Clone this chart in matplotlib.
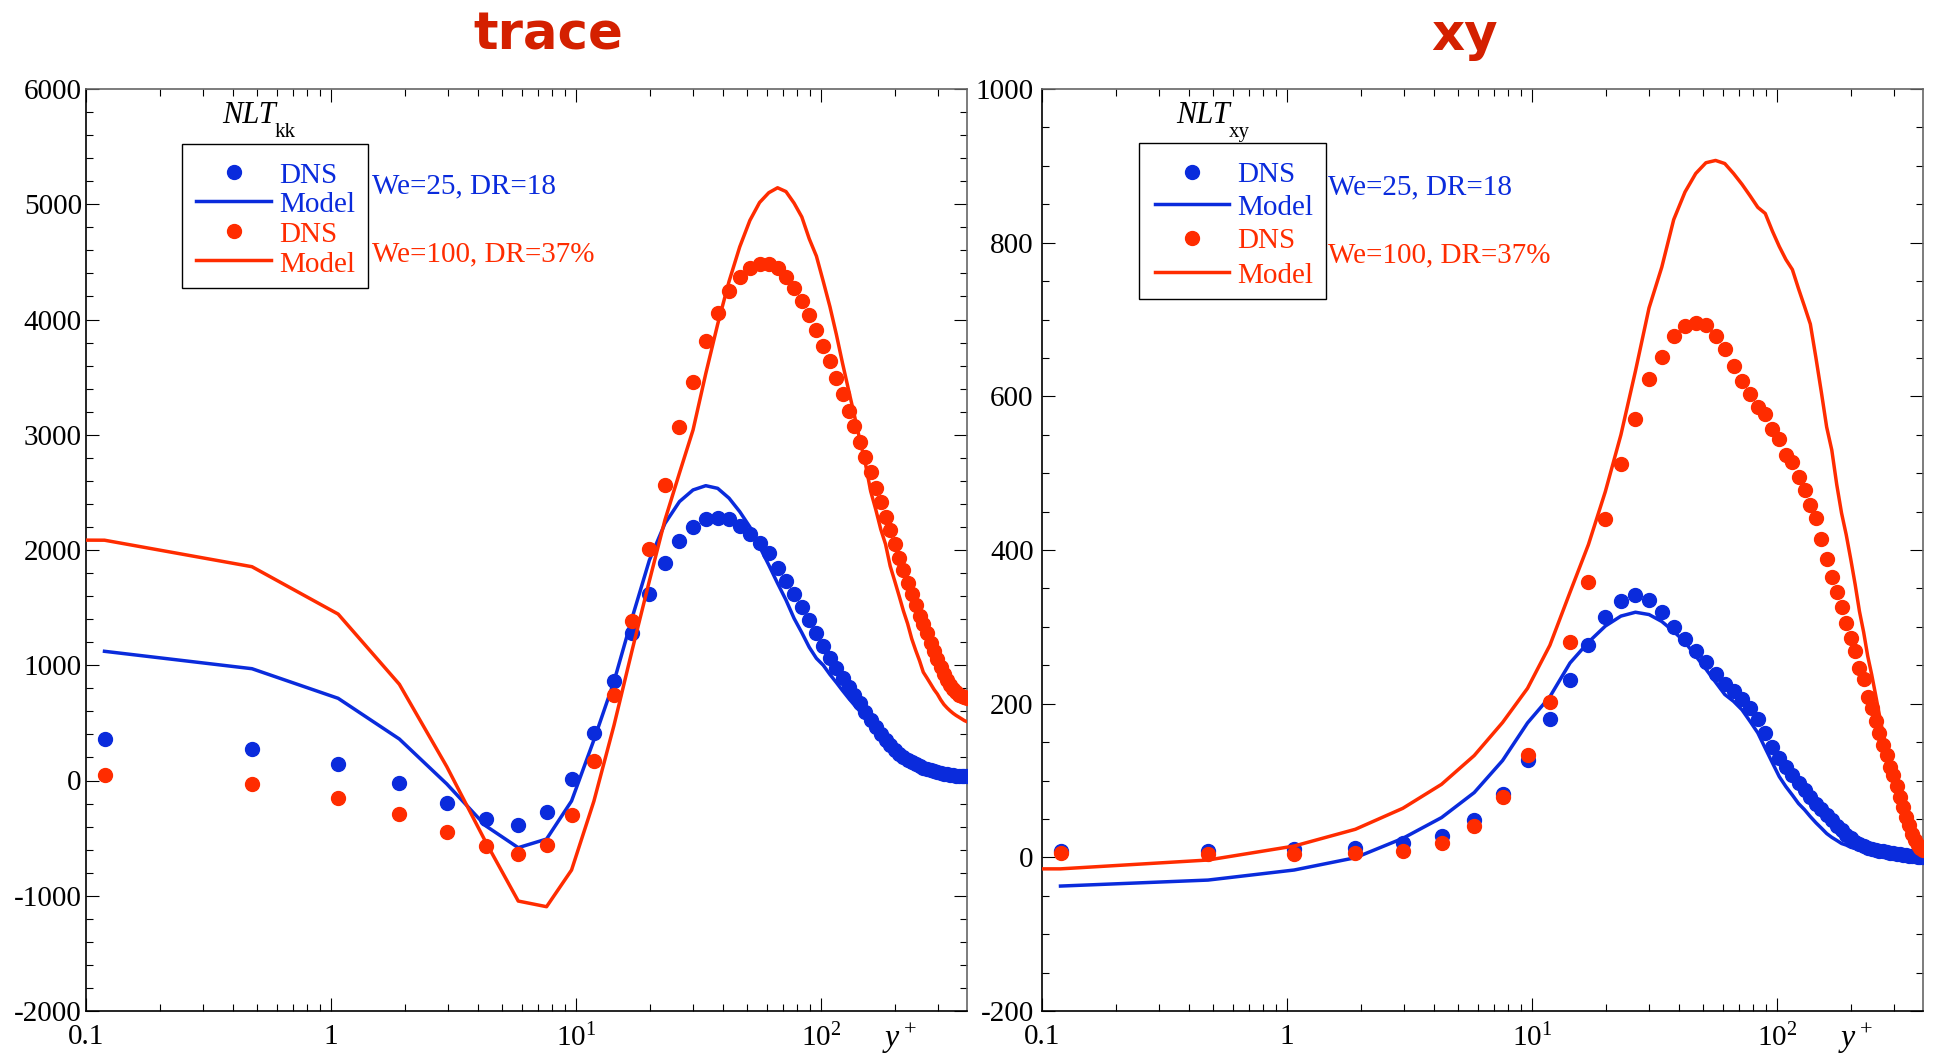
import numpy as np
import matplotlib.pyplot as plt
from matplotlib.lines import Line2D
from matplotlib.patches import Rectangle
from matplotlib.ticker import FixedLocator, MultipleLocator, NullFormatter

plt.rcParams['font.family'] = ['Liberation Serif', 'DejaVu Serif']
plt.rcParams['mathtext.fontset'] = 'custom'
plt.rcParams['mathtext.rm'] = 'Liberation Serif'
plt.rcParams['mathtext.it'] = 'Liberation Serif:italic'
plt.rcParams['axes.unicode_minus'] = False

# DNS wall-normal grid, first point off the wall up to the channel centre
yplus = [0.119, 0.476, 1.070, 1.902, 2.971, 4.275, 5.815, 7.590,
         9.598, 11.84, 14.31, 17.01, 19.94, 23.09, 26.47, 30.07,
         33.89, 37.92, 42.18, 46.64, 51.32, 56.20, 61.28, 66.57,
         72.05, 77.73, 83.60, 89.66, 95.90, 102.3, 108.9, 115.7,
         122.6, 129.7, 137.0, 144.4, 152.0, 159.7, 167.6, 175.6,
         183.7, 191.9, 200.3, 208.8, 217.4, 226.1, 234.9, 243.8,
         252.8, 261.9, 271.1, 280.3, 289.7, 299.0, 308.5, 317.9,
         327.5, 337.0, 346.7, 356.3, 365.9, 375.6, 385.3, 395.0]
# the We=100 model also has a value below the first grid point
yplus_wall = 0.03

# ---- trace (NLT_kk) ----
kk_dns_we25 = [357, 273, 143, -22, -192, -337, -386, -273,
               10, 416, 866, 1277, 1618, 1885, 2080, 2202,
               2266, 2281, 2268, 2212, 2140, 2057, 1970, 1846,
               1730, 1614, 1507, 1393, 1282, 1166, 1066, 973,
               886, 814, 742, 670, 597, 525, 461, 401,
               350, 305, 265, 232, 203, 178, 157, 139,
               123, 109, 97, 87, 79, 71, 65, 59,
               54, 50, 46, 43, 41, 39, 37, 36]
kk_model_we25 = [1121, 970, 713, 360, -30, -392, -583, -508,
                 -178, 351, 860, 1420, 1910, 2230, 2420, 2521,
                 2558, 2535, 2450, 2333, 2200, 2029, 1870, 1711,
                 1566, 1407, 1283, 1156, 1060, 1000, 920, 850,
                 780, 715, 655, 600, 545, 490, 440, 390,
                 345, 300, 262, 228, 198, 172, 150, 131,
                 115, 100, 88, 78, 70, 63, 57, 52,
                 47, 43, 40, 37, 35, 33, 32, 31]
kk_dns_we100 = [48, -33, -152, -291, -447, -571, -641, -560,
                -299, 169, 742, 1387, 2005, 2560, 3070, 3461,
                3814, 4054, 4243, 4373, 4444, 4479, 4479, 4444,
                4373, 4277, 4164, 4036, 3906, 3770, 3640, 3490,
                3351, 3209, 3076, 2937, 2807, 2677, 2542, 2414,
                2289, 2170, 2053, 1933, 1826, 1716, 1618, 1523,
                1427, 1358, 1277, 1196, 1121, 1051, 982, 924,
                872, 828, 794, 765, 745, 730, 722, 719]
kk_model_we100 = [2090,
                  2085, 1855, 1444, 835, 120, -530, -1046, -1095,
                  -777, -180, 480, 1141, 1730, 2260, 2668, 3041,
                  3530, 3960, 4330, 4630, 4860, 5015, 5100, 5143,
                  5110, 5010, 4890, 4700, 4550, 4330, 4111, 3870,
                  3620, 3390, 3170, 2950, 2750, 2510, 2350, 2180,
                  2050, 1860, 1730, 1600, 1470, 1360, 1230, 1130,
                  1040, 940, 890, 840, 790, 750, 700, 660,
                  630, 605, 583, 565, 550, 535, 520, 510]

# ---- xy (NLT_xy) ----
xy_dns_we25 = [8.7, 8.7, 10.8, 12.6, 18.2, 28.2, 48.6, 82,
               127, 180, 231, 277, 313, 334, 342, 335,
               319, 300, 284, 269, 254, 239, 226, 216,
               206, 194, 180, 162, 144, 129, 118, 107,
               97, 88, 79, 70, 63, 55, 48, 41,
               35, 29, 25, 20, 17, 15, 12.6, 11,
               10, 8.7, 7.8, 6.9, 6.0, 5.2, 4.3, 3.9,
               3.0, 2.6, 2.1, 1.7, 1.3, 0.8, 0.4, 0.0]
xy_model_we25 = [-37.4, -29.6, -16.5, -0.5, 24.7, 51.7, 84.3, 126,
                 175, 209, 253, 280, 301, 314, 319, 316,
                 307, 294, 280, 262, 245, 228, 212, 203,
                 192, 177, 162, 142, 123, 105, 92, 81,
                 70, 62, 53, 45, 38, 31, 26, 22,
                 18, 16, 13, 12, 10, 8.7, 7.3, 6.5,
                 5.6, 4.7, 4.0, 3.5, 3.0, 2.6, 2.2, 1.9,
                 1.6, 1.3, 1.0, 0.8, 0.6, 0.4, 0.2, 0.0]
xy_dns_we100 = [5.2, 4.3, 4.3, 5.2, 8.7, 18.2, 41.3, 78,
                133, 202, 280, 359, 440, 512, 570, 622,
                651, 678, 692, 696, 693, 679, 662, 639,
                620, 603, 586, 577, 558, 544, 524, 515,
                495, 478, 458, 441, 414, 388, 365, 345,
                326, 305, 285, 269, 246, 232, 209, 194,
                177, 162, 146, 133, 118, 107, 93, 79,
                66, 53, 42, 31, 22.5, 16, 11.7, 9.5]
xy_model_we100 = [-15,
                  -15, -3.5, 14.7, 36.5, 63.8, 95, 132.5, 175.5,
                  220, 276, 345, 407, 476, 550, 633, 715,
                  768, 830, 866, 890, 904, 907, 903, 890,
                  876, 861, 846, 838, 815, 795, 778, 765,
                  740, 717, 694, 650, 605, 560, 530, 485,
                  448, 420, 388, 355, 320, 293, 262, 238,
                  212, 186, 162, 144, 122, 101, 85, 66,
                  56, 46, 38, 30, 23, 16, 10, 8]

x_ticks = [0.1, 1, 10, 100]
x_ticklabels = ['0.1', '1', '$10^1$', '$10^2$']

blue = '#0a2bdc'
red = '#ff2c00'
title_red = '#d42000'

W, H = 1934, 1058
fig = plt.figure(figsize=(W / 100, H / 100), dpi=100)


def fx(px):
    return px / W


def fy(py):
    return 1 - py / H


def setup(ax, ylim, major, minor, ypad):
    ax.set_xscale('log')
    ax.set_xlim(0.1, 395)
    ax.set_ylim(*ylim)
    ax.xaxis.set_major_locator(FixedLocator(x_ticks))
    ax.set_xticklabels(x_ticklabels)
    minors = [m * 10.0 ** e for e in (-1, 0, 1, 2) for m in range(2, 10)]
    ax.xaxis.set_minor_locator(FixedLocator([v for v in minors if v < 395]))
    ax.xaxis.set_minor_formatter(NullFormatter())
    ax.yaxis.set_major_locator(MultipleLocator(major))
    ax.yaxis.set_minor_locator(MultipleLocator(minor))
    ax.tick_params(which='both', direction='in', top=True, right=True,
                   labelsize=21, width=0.8, color='black')
    ax.tick_params(which='major', length=9.5)
    ax.tick_params(which='minor', length=5)
    ax.tick_params(axis='x', which='major', pad=9)
    ax.tick_params(axis='y', which='major', pad=ypad)
    for side in ('left', 'bottom'):
        ax.spines[side].set_linewidth(1.2)
        ax.spines[side].set_color('black')
    for side in ('top', 'right'):
        ax.spines[side].set_linewidth(1.2)
        ax.spines[side].set_color('#666666')
    ax.text(0.904, -0.039, '$y^+$', transform=ax.transAxes, fontsize=23,
            va='baseline', ha='left')


def curves(ax, dns25, mod25, dns100, mod100):
    ax.plot(yplus, dns25, 'o', ms=10, color=blue, zorder=3)
    ax.plot(yplus, mod25, '-', lw=2.5, color=blue, zorder=4)
    ax.plot(yplus, dns100, 'o', ms=10, color=red, zorder=5)
    ax.plot([yplus_wall] + yplus, mod100, '-', lw=2.5, color=red, zorder=6)


def key(box, mark_x, line_x, text_x, rows, sub, name_x, texts_x, texts_y):
    left, top, right, bottom = box
    fig.add_artist(Rectangle((fx(left), fy(bottom)), (right - left) / W,
                             (bottom - top) / H, transform=fig.transFigure,
                             fill=False, lw=1.0, ec='black'))
    entries = [('dot', blue, 'DNS'), ('line', blue, 'Model'),
               ('dot', red, 'DNS'), ('line', red, 'Model')]
    for (kind, c, lab), (ym, yt) in zip(entries, rows):
        if kind == 'dot':
            fig.add_artist(Line2D([fx(mark_x)], [fy(ym)], marker='o', ms=10,
                                  color=c, ls='none', transform=fig.transFigure))
        else:
            fig.add_artist(Line2D([fx(line_x[0]), fx(line_x[1])], [fy(ym), fy(ym)],
                                  color=c, lw=2.5, transform=fig.transFigure))
        fig.text(fx(text_x), fy(yt), lab, color=c, fontsize=21, va='baseline')
    # variable name with a dropped subscript
    fig.text(fx(name_x), fy(123), 'NLT', fontsize=22, style='italic',
             va='baseline')
    fig.text(fx(name_x + 53), fy(137), sub, fontsize=15, va='baseline')
    fig.text(fx(texts_x), fy(texts_y[0]), 'We=25, DR=18', color=blue,
             fontsize=21, va='baseline')
    fig.text(fx(texts_x), fy(texts_y[1]), 'We=100, DR=37%', color=red,
             fontsize=21, va='baseline')


ax1 = fig.add_axes([fx(86), fy(1011), (967 - 86) / W, (1011 - 89) / H])
ax2 = fig.add_axes([fx(1042), fy(1011), (1923 - 1042) / W, (1011 - 89) / H])

setup(ax1, (-2000, 6000), 1000, 200, 3)
setup(ax2, (-200, 1000), 200, 50, 6)

curves(ax1, kk_dns_we25, kk_model_we25, kk_dns_we100, kk_model_we100)
curves(ax2, xy_dns_we25, xy_model_we25, xy_dns_we100, xy_model_we100)

fig.text(fx(548), fy(50), 'trace', ha='center', va='baseline', fontsize=37,
         fontweight='bold', family='DejaVu Sans', color=title_red)
fig.text(fx(1465), fy(50), 'xy', ha='center', va='baseline', fontsize=37,
         fontweight='bold', family='DejaVu Sans', color=title_red)

key((182, 144, 368, 288), 234, (196, 271), 279,
    [(172, 183), (201, 212), (231, 242), (260, 272)],
    'kk', 222, 372, (193, 261))
key((1139, 143, 1326, 299), 1192, (1155, 1229), 1237,
    [(172, 182), (204, 215), (238, 248), (272, 283)],
    'xy', 1176, 1328, (194, 262))

fig.savefig('out.png', dpi=100)
